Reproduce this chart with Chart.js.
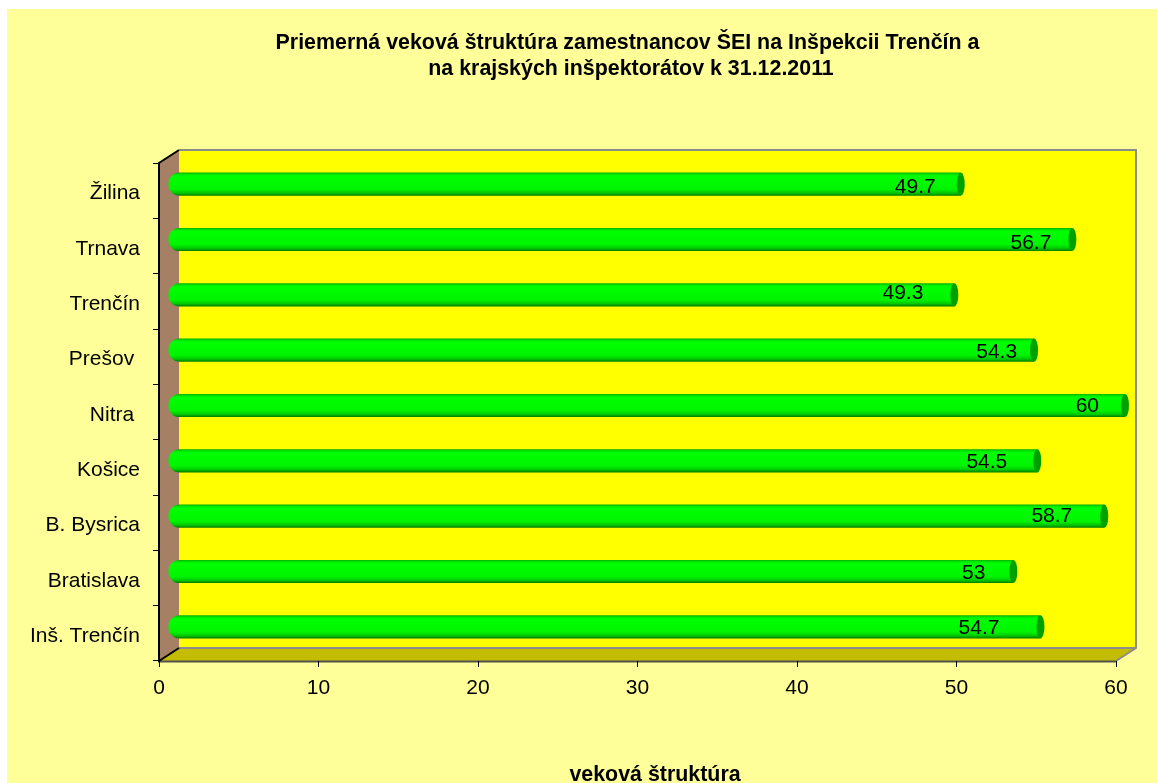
<!DOCTYPE html>
<html>
<head>
<meta charset="utf-8">
<script src="https://cdn.jsdelivr.net/npm/chart.js@4"></script>
<style>
    html, body { margin: 0; padding: 0; background: #fff; }
    #wrap { width: 1157px; height: 783px; }
</style>
</head>
<body>
<div id="wrap"><canvas id="ageChart" width="1157" height="783"></canvas></div>
<script>
const categories = ['Žilina', 'Trnava', 'Trenčín', 'Prešov ', 'Nitra ', 'Košice', 'B. Bysrica', 'Bratislava', 'Inš. Trenčín'];
const ages = [49.7, 56.7, 49.3, 54.3, 60, 54.5, 58.7, 53, 54.7];
const xTicks = [0, 10, 20, 30, 40, 50, 60];
const titleLines = ['Priemerná veková štruktúra zamestnancov ŠEI na Inšpekcii Trenčín a', 'na krajských inšpektorátov k 31.12.2011'];
const xTitle = 'veková štruktúra';

const FONT = '"Liberation Sans", Arial, sans-serif';
const DEPTH_X = 20, DEPTH_Y = 13;
const BAR_SHARE = 0.42;
// value labels were placed by hand in the original, each sits a bit differently
const labelShiftX = [-25, -21, -31, -17, -26, -30, -32, -28, -41];
const labelShiftY = [3, 3.5, -2, 2, 0.5, 1, 0, 1.5, 1];

// Walls and floor of the 3D box, behind the bars
const box3d = {
    id: 'box3d',
    beforeDraw(chart) {
        const c = chart.ctx;
        const { left, right, top, bottom } = chart.chartArea;
        c.save();
        c.fillStyle = '#FFFF99';
        c.fillRect(7, 9, 1150, 774);

        // back wall
        c.fillStyle = '#FFFF00';
        c.fillRect(left + DEPTH_X, top - DEPTH_Y, right - left, bottom - top);

        // side wall
        c.fillStyle = '#A68064';
        c.beginPath();
        c.moveTo(left, top);
        c.lineTo(left + DEPTH_X, top - DEPTH_Y);
        c.lineTo(left + DEPTH_X, bottom - DEPTH_Y);
        c.lineTo(left, bottom);
        c.closePath();
        c.fill();

        // floor
        c.fillStyle = '#C4BC00';
        c.beginPath();
        c.moveTo(left, bottom);
        c.lineTo(left + DEPTH_X, bottom - DEPTH_Y);
        c.lineTo(right + DEPTH_X, bottom - DEPTH_Y);
        c.lineTo(right, bottom);
        c.closePath();
        c.fill();

        // grey outline of the back wall and floor
        c.strokeStyle = '#8C8C8C';
        c.lineWidth = 2;
        c.beginPath();
        c.moveTo(left + DEPTH_X, top - DEPTH_Y);
        c.lineTo(right + DEPTH_X, top - DEPTH_Y);
        c.lineTo(right + DEPTH_X, bottom - DEPTH_Y);
        c.lineTo(right, bottom);
        c.moveTo(left + DEPTH_X, bottom - DEPTH_Y);
        c.lineTo(right + DEPTH_X, bottom - DEPTH_Y);
        c.stroke();

        // front edge of the floor
        c.strokeStyle = '#505050';
        c.beginPath();
        c.moveTo(left, bottom + 0.5);
        c.lineTo(right, bottom + 0.5);
        c.stroke();

        // black edges of the side wall
        c.strokeStyle = '#000';
        c.lineWidth = 2;
        c.beginPath();
        c.moveTo(left + DEPTH_X, top - DEPTH_Y);
        c.lineTo(left, top);
        c.lineTo(left, bottom);
        c.lineTo(left + DEPTH_X, bottom - DEPTH_Y);
        c.stroke();
        c.restore();
    },
    // bars sit halfway into the depth of the box
    beforeDatasetsDraw(chart) {
        chart.ctx.save();
        chart.ctx.translate(9, -6.5);
    },
    afterDatasetsDraw(chart) {
        const c = chart.ctx;
        chart.getDatasetMeta(0).data.forEach((bar, i) => {
            // end cap of the cylinder
            c.fillStyle = '#00A000';
            c.beginPath();
            c.ellipse(bar.x, bar.y, 4, bar.height / 2, 0, 0, Math.PI * 2);
            c.fill();
            // value label
            c.fillStyle = '#000';
            c.font = '21px ' + FONT;
            c.textAlign = 'right';
            c.textBaseline = 'middle';
            c.fillText(String(ages[i]), bar.x + labelShiftX[i], bar.y + labelShiftY[i] + 0.5);
        });
        c.restore();
    },
    afterDraw(chart) {
        const c = chart.ctx;
        c.save();
        c.fillStyle = '#000';
        c.font = 'bold 21.4px ' + FONT;
        c.textAlign = 'center';
        c.textBaseline = 'middle';
        c.fillText(titleLines[0], 627.5, 43);
        c.fillText(titleLines[1], 631, 69);
        c.fillText(xTitle, 655, 775);
        c.restore();
    }
};

function barGradient(ctx) {
    const chart = ctx.chart;
    const y = chart.scales.y;
    if (!y || !chart.chartArea) return '#00FF00';
    const mid = y.getPixelForValue(ctx.dataIndex);
    const half = (chart.chartArea.height / categories.length) * BAR_SHARE / 2;
    const g = chart.ctx.createLinearGradient(0, mid - half, 0, mid + half);
    g.addColorStop(0, '#00B000');
    g.addColorStop(0.08, '#00E800');
    g.addColorStop(0.16, '#00FF00');
    g.addColorStop(0.72, '#00F400');
    g.addColorStop(0.88, '#00C800');
    g.addColorStop(1, '#007800');
    return g;
}

new Chart(document.getElementById('ageChart').getContext('2d'), {
    type: 'bar',
    data: {
        labels: categories,
        datasets: [{
            label: 'veková štruktúra',
            data: ages,
            backgroundColor: barGradient,
            barPercentage: BAR_SHARE,
            categoryPercentage: 1,
            borderSkipped: false,
            borderRadius: { topLeft: 11, bottomLeft: 11, topRight: 0, bottomRight: 0 }
        }]
    },
    options: {
        indexAxis: 'y',
        responsive: false,
        animation: false,
        layout: { padding: { top: 163, right: 41, bottom: 0, left: 0 } },
        plugins: { legend: { display: false }, tooltip: { enabled: false } },
        scales: {
            x: {
                min: 0, max: 60,
                afterBuildTicks: s => { s.ticks = xTicks.map(v => ({ value: v })); },
                afterFit: s => { s.height = 122; },
                grid: { drawOnChartArea: false, color: '#000', tickLength: 6 },
                border: { display: false },
                ticks: { color: '#000', font: { family: FONT, size: 21 }, padding: 9, maxRotation: 0 }
            },
            y: {
                afterFit: s => { s.width = 159; },
                grid: { drawOnChartArea: false, color: '#000', tickLength: 6, offset: true },
                border: { display: false },
                ticks: { color: '#000', font: { family: FONT, size: 21 }, padding: 13, labelOffset: 3 }
            }
        }
    },
    plugins: [box3d]
});
</script>
</body>
</html>
